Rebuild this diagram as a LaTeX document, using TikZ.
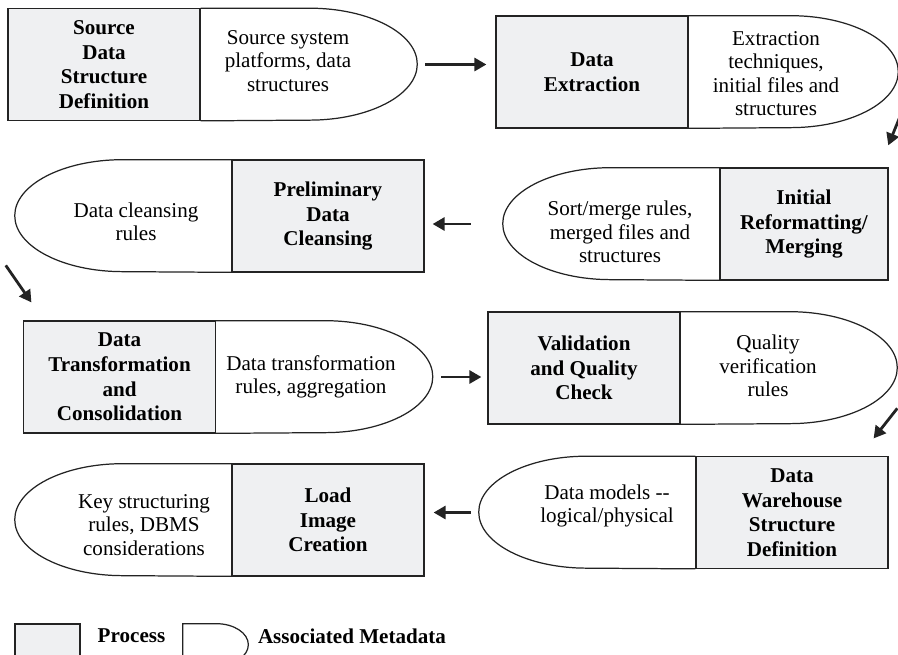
\documentclass[tikz,border=0pt]{standalone}
\usepackage{fontspec}
\setmainfont{Liberation Serif}
\usepackage{tikz}
\usetikzlibrary{arrows.meta}
\definecolor{procfill}{RGB}{239,240,242}
\definecolor{edge}{RGB}{35,35,35}

\tikzset{
  proc/.style={draw=edge, line width=0.7pt, fill=procfill, minimum width=3.84cm, minimum height=2.24cm,
    inner sep=0pt, align=center, font=\fontsize{12}{14}\selectfont\bfseries},
  region/.style={minimum width=4.32cm, minimum height=2.24cm, inner sep=0pt},
  metatext/.style={align=center, font=\fontsize{12}{13.3}\selectfont, inner sep=0pt},
  outline/.style={draw=edge, line width=0.7pt},
  flow/.style={-{Triangle[length=0.24cm,width=0.26cm]}, line width=1.6pt, draw=edge}
}

\begin{document}
\begin{tikzpicture}[x=0.02cm, y=-0.02cm]
  \useasboundingbox (0,0) rectangle (898,654);
  \clip (0,0) rectangle (898,654);

  % Row 1
  \node[proc] (p1) at (104,64.5) {Source\\Data\\Structure\\Definition};
  \node[region, anchor=west] (m1) at (p1.east) {};
  \draw[outline] (m1.north west) -- ([xshift=-2.16cm]m1.north east) arc[start angle=90, end angle=-90, x radius=2.16cm, y radius=1.12cm] -- (m1.south west);
  \node[metatext] (t1) at (288,61) {Source system\\platforms, data\\structures};

  \node[proc] (p2) at (592,72) {Data\\Extraction};
  \node[region, anchor=west, minimum width=4.18cm] (m2) at (p2.east) {};
  \draw[outline] (m2.north west) -- ([xshift=-2.16cm]m2.north east) arc[start angle=90, end angle=-90, x radius=2.16cm, y radius=1.12cm] -- (m2.south west);
  \node[metatext] (t2) at (776,73.5) {Extraction\\techniques,\\initial files and\\structures};

  % Row 2
  \node[proc, minimum width=3.36cm] (p3) at (804,224) {Initial\\Reformatting/\\Merging};
  \node[region, anchor=east] (m3) at (p3.west) {};
  \draw[outline] (m3.north east) -- ([xshift=2.16cm]m3.north west) arc[start angle=90, end angle=270, x radius=2.16cm, y radius=1.12cm] -- (m3.south east);
  \node[metatext] (t3) at (620,232) {Sort/merge rules,\\merged files and\\structures};

  \node[proc] (p4) at (328,216) {Preliminary\\Data\\Cleansing};
  \node[region, anchor=east] (m4) at (p4.west) {};
  \draw[outline] (m4.north east) -- ([xshift=2.16cm]m4.north west) arc[start angle=90, end angle=270, x radius=2.16cm, y radius=1.12cm] -- (m4.south east);
  \node[metatext] (t4) at (136,222) {Data cleansing\\rules};

  % Row 3
  \node[proc] (p5) at (119.5,377) {Data\\Transformation\\and\\Consolidation};
  \node[region, anchor=west] (m5) at (p5.east) {};
  \draw[outline] (m5.north west) -- ([xshift=-2.16cm]m5.north east) arc[start angle=90, end angle=-90, x radius=2.16cm, y radius=1.12cm] -- (m5.south west);
  \node[metatext] (t5) at (311,377) {Data transformation\\rules, aggregation};

  \node[proc] (p6) at (584,368) {Validation\\and Quality\\Check};
  \node[region, anchor=west] (m6) at (p6.east) {};
  \draw[outline] (m6.north west) -- ([xshift=-2.16cm]m6.north east) arc[start angle=90, end angle=-90, x radius=2.16cm, y radius=1.12cm] -- (m6.south west);
  \node[metatext] (t6) at (768,366) {Quality\\verification\\rules};

  % Row 4
  \node[proc] (p7) at (792,512.5) {Data\\Warehouse\\Structure\\Definition};
  \node[region, anchor=east] (m7) at (p7.west) {};
  \draw[outline] (m7.north east) -- ([xshift=2.16cm]m7.north west) arc[start angle=90, end angle=270, x radius=2.16cm, y radius=1.12cm] -- (m7.south east);
  \node[metatext] (t7) at (607,506) {Data models {-}{-}\\logical/physical};

  \node[proc] (p8) at (328,520) {Load\\Image\\Creation};
  \node[region, anchor=east] (m8) at (p8.west) {};
  \draw[outline] (m8.north east) -- ([xshift=2.16cm]m8.north west) arc[start angle=90, end angle=270, x radius=2.16cm, y radius=1.12cm] -- (m8.south east);
  \node[metatext] (t8) at (144,525) {Key structuring\\rules, DBMS\\considerations};

  % Flow arrows
  \draw[flow, shorten <=0.16cm, shorten >=0.18cm] (m1.east) -- (m1.east -| p2.west);
  \draw[flow] ([shift={(1,-10)}]m2.south east) -- ([shift={(-10,17)}]m2.south east);
  \draw[flow, shorten <=0.64cm, shorten >=0.16cm] (m3.west) -- (m3.west -| p4.east);
  \draw[flow] ([shift={(-9,-7)}]m4.south west) -- ([shift={(8.5,-18)}]p5.north west);
  \draw[flow, shorten <=0.17cm, shorten >=0.12cm] (m5.east) -- (m5.east -| p6.west);
  \draw[flow] ([shift={(0,-16)}]m6.south east) -- ([shift={(-15,-17.5)}]p7.north east);
  \draw[flow, shorten <=0.16cm, shorten >=0.18cm] (m7.west) -- (m7.west -| p8.east);

  % Legend
  \node[proc, minimum width=1.3cm, minimum height=0.84cm] (lp) at (47.5,645) {};
  \node[font=\fontsize{12}{14}\selectfont\bfseries] (lpt) at (131.5,636) {Process};
  \node[region, minimum width=1.3cm, minimum height=0.84cm] (lm) at (215.5,645) {};
  \draw[outline] (lm.south west) -- (lm.north west) -- ([xshift=-0.64cm]lm.north east) arc[start angle=90, end angle=-90, x radius=0.64cm, y radius=0.42cm] -- (lm.south west);
  \node[font=\fontsize{12}{14}\selectfont\bfseries] (lmt) at (352,636) {Associated Metadata};

\end{tikzpicture}
\end{document}
